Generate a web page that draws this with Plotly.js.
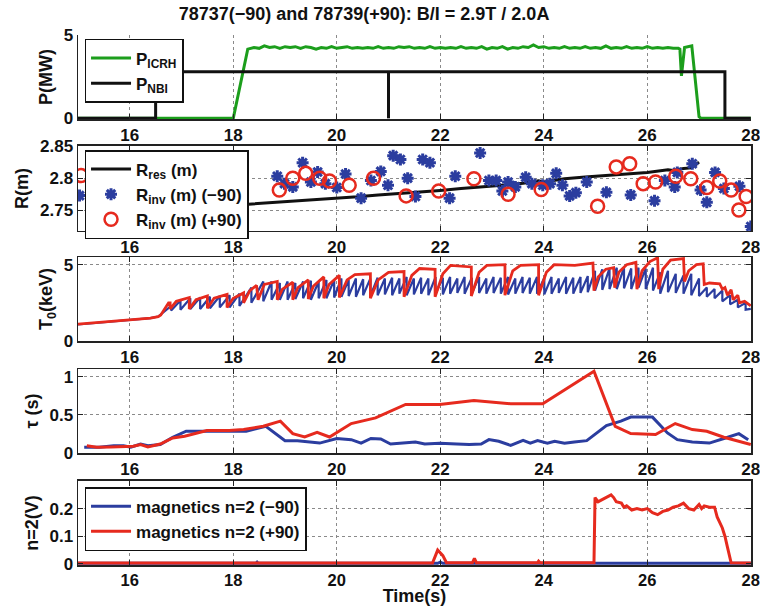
<!DOCTYPE html>
<html><head><meta charset="utf-8">
<script src="https://cdn.plot.ly/plotly-3.0.1.min.js"></script>
<style>body{margin:0;background:#fff}#chart{width:760px;height:606px}</style>
</head><body><div id="chart"></div>
<script>
// ---------- Panel 1: heating power (MW) ----------
const icrhTime = [15, 18.0, 18.28, 18.4, 18.5, 18.6, 18.7, 18.8, 18.9, 19.0, 19.1, 19.2, 19.3, 19.4, 19.5, 19.6, 19.7, 19.8, 19.9, 20.0, 20.1, 20.2, 20.3, 20.4, 20.5, 20.6, 20.7, 20.8, 20.9, 21.0, 21.1, 21.2, 21.3, 21.4, 21.5, 21.6, 21.7, 21.8, 21.9, 22.0, 22.1, 22.2, 22.3, 22.4, 22.5, 22.6, 22.7, 22.8, 22.9, 23.0, 23.1, 23.2, 23.3, 23.4, 23.5, 23.6, 23.7, 23.8, 23.9, 24.0, 24.1, 24.2, 24.3, 24.4, 24.5, 24.6, 24.7, 24.8, 24.9, 25.0, 25.1, 25.2, 25.3, 25.4, 25.5, 25.6, 25.7, 25.8, 25.9, 26.0, 26.1, 26.2, 26.3, 26.4, 26.5, 26.6, 26.63, 26.66, 26.72, 26.8, 26.86, 27.0, 27.04, 28];
const icrhPower = [0, 0, 4.15, 4.25, 4.2, 4.35, 4.25, 4.3, 4.2, 4.3, 4.25, 4.3, 4.2, 4.3, 4.25, 4.15, 4.25, 4.2, 4.3, 4.2, 4.25, 4.3, 4.2, 4.25, 4.2, 4.25, 4.2, 4.3, 4.2, 4.25, 4.2, 4.3, 4.25, 4.3, 4.2, 4.25, 4.2, 4.3, 4.2, 4.25, 4.2, 4.25, 4.2, 4.3, 4.2, 4.25, 4.2, 4.3, 4.15, 4.25, 4.2, 4.3, 4.15, 4.25, 4.2, 4.3, 4.25, 4.4, 4.25, 4.3, 4.2, 4.25, 4.2, 4.3, 4.2, 4.25, 4.2, 4.3, 4.2, 4.25, 4.2, 4.35, 4.2, 4.25, 4.2, 4.3, 4.2, 4.25, 4.2, 4.3, 4.2, 4.25, 4.2, 4.25, 4.2, 4.2, 4.15, 2.55, 4.25, 4.3, 4.35, 0.1, 0, 0];
const nbiTime = [15, 16.5, 16.5, 27.5, 27.5, 28, null, 21, 21];
const nbiPower = [0, 0, 2.8, 2.8, 0, 0, null, 0, 2.8];

// ---------- Panel 2: radii (m) ----------
const resTime = [18.0, 18.8, 19.2, 19.6, 20.0, 20.4, 20.8, 21.2, 21.6, 22.0, 22.4, 22.8, 23.2, 23.6, 23.9, 24.0, 24.4, 24.8, 25.2, 25.6, 26.0, 26.4, 26.5, 26.7, 26.85, 27.0];
const resR = [2.758, 2.762, 2.764, 2.767, 2.769, 2.771, 2.774, 2.776, 2.779, 2.781, 2.784, 2.786, 2.789, 2.792, 2.796, 2.794, 2.799, 2.802, 2.804, 2.806, 2.809, 2.813, 2.812, 2.815, 2.816, 2.825];
const invMinusTime = [15.03, 16.76, 18.85, 18.99, 19.15, 19.34, 19.5, 19.63, 19.78, 20.0, 20.17, 20.47, 20.66, 20.85, 20.99, 21.09, 21.23, 21.37, 21.52, 21.66, 21.8, 22.18, 22.29, 22.77, 22.94, 23.08, 23.2, 23.31, 23.45, 23.65, 23.77, 23.98, 24.12, 24.24, 24.36, 24.5, 24.62, 24.83, 25.21, 25.68, 26.14, 26.34, 26.53, 26.58, 26.87, 27.03, 27.15, 27.31, 27.48, 27.78, 28.0];
const invMinusR = [2.773, 2.724, 2.803, 2.7915, 2.7865, 2.824, 2.794, 2.8095, 2.7915, 2.7855, 2.8065, 2.769, 2.7965, 2.8105, 2.789, 2.835, 2.829, 2.8, 2.7715, 2.829, 2.824, 2.769, 2.803, 2.839, 2.7965, 2.7965, 2.78, 2.794, 2.7865, 2.8015, 2.7915, 2.789, 2.7915, 2.8075, 2.789, 2.7725, 2.7775, 2.794, 2.778, 2.774, 2.765, 2.7965, 2.7865, 2.809, 2.8225, 2.7815, 2.7625, 2.809, 2.784, 2.7875, 2.725];
const invPlusTime = [15.06, 18.89, 19.15, 19.4, 19.67, 19.86, 20.24, 20.71, 21.34, 21.97, 22.65, 23.31, 23.95, 25.04, 25.4, 25.66, 25.92, 26.16, 26.55, 26.84, 27.15, 27.4, 27.62, 27.77, 27.91];
const invPlusR = [2.804, 2.7815, 2.8, 2.8075, 2.8, 2.7955, 2.789, 2.8, 2.7725, 2.78, 2.799, 2.775, 2.7825, 2.7565, 2.8175, 2.8225, 2.7915, 2.794, 2.803, 2.799, 2.7855, 2.7955, 2.7815, 2.7505, 2.7715];

// ---------- Panel 3: central temperature (keV) ----------
const blueT0StartTime = [15.0, 15.5, 16.0, 16.4, 16.55, 16.7];
const blueT0Start = [1.08, 1.22, 1.38, 1.5, 1.6, 2.0];
const blueCrashTime = [16.8, 16.98, 17.17, 17.36, 17.55, 17.74, 17.93, 18.12, 18.35, 18.58, 18.74, 18.9, 19.05, 19.2, 19.35, 19.5, 19.65, 19.8, 19.95, 20.09, 20.23, 20.37, 20.51, 20.65, 20.79, 20.93, 21.07, 21.21, 21.35, 21.49, 21.63, 21.77, 21.91, 22.05, 22.19, 22.33, 22.47, 22.61, 22.75, 22.89, 23.03, 23.17, 23.31, 23.45, 23.59, 23.73, 23.87, 24.01, 24.15, 24.29, 24.43, 24.57, 24.71, 24.85, 24.99, 25.13, 25.27, 25.41, 25.55, 25.69, 25.83, 25.97, 26.11, 26.25, 26.4, 26.55, 26.7, 26.85, 27.0, 27.15, 27.3, 27.45, 27.6, 27.75, 27.9];
const blueCrashPeak = [2.3, 2.65, 2.8, 2.85, 2.9, 2.95, 3.0, 3.1, 3.5, 3.9, 3.9, 3.8, 3.9, 3.8, 3.9, 3.95, 3.9, 4.0, 4.0, 4.1, 4.0, 4.1, 4.05, 4.1, 4.15, 4.1, 4.15, 4.1, 4.2, 4.1, 4.15, 4.1, 4.2, 4.15, 4.2, 4.1, 4.2, 4.15, 4.2, 4.1, 4.2, 4.15, 4.2, 4.1, 4.2, 4.15, 4.2, 4.15, 4.2, 4.1, 4.2, 4.15, 4.2, 4.25, 4.6, 4.7, 4.75, 4.8, 4.8, 4.75, 4.8, 4.75, 4.8, 4.5, 4.6, 4.4, 4.3, 4.4, 4.1, 3.5, 3.4, 3.3, 3.0, 2.7, 2.5];
const blueCrashMin = [2.0, 2.05, 2.1, 2.1, 2.15, 2.2, 2.2, 2.3, 2.5, 2.6, 2.7, 2.7, 2.7, 2.75, 2.8, 2.7, 2.8, 2.8, 2.85, 2.9, 2.95, 2.9, 3.0, 2.95, 3.0, 3.05, 3.0, 3.1, 3.0, 3.05, 3.1, 3.0, 3.1, 3.05, 3.1, 3.15, 3.1, 3.1, 3.15, 3.1, 3.15, 3.1, 3.05, 3.1, 3.15, 3.1, 3.1, 3.05, 3.1, 3.15, 3.1, 3.1, 3.15, 3.2, 3.3, 3.35, 3.4, 3.4, 3.45, 3.4, 3.5, 3.4, 3.3, 3.1, 3.2, 3.15, 3.1, 3.0, 2.95, 2.9, 2.8, 2.6, 2.4, 2.2, 2.05];
const blueT0EndTime = [28.0];
const blueT0End = [2.1];
const redT0Time = [15.0, 15.5, 16.0, 16.4, 16.55, 16.6, 16.75, 16.78, 16.78, 16.9, 17.15, 17.15, 17.28, 17.5, 17.5, 17.63, 17.88, 17.88, 18.0, 18.2, 18.2, 18.32, 18.45, 18.48, 18.6, 18.85, 18.85, 18.95, 19.15, 19.15, 19.25, 19.45, 19.45, 19.55, 19.75, 19.75, 19.85, 20.05, 20.05, 20.2, 20.35, 20.65, 20.65, 20.8, 21.0, 21.3, 21.3, 21.45, 21.6, 21.9, 21.9, 22.05, 22.2, 22.6, 22.6, 22.75, 22.9, 23.25, 23.25, 23.4, 23.55, 23.9, 23.9, 24.05, 24.2, 24.6, 24.95, 24.97, 25.05, 25.2, 25.35, 25.37, 25.45, 25.6, 25.78, 25.8, 25.9, 26.05, 26.2, 26.22, 26.3, 26.45, 26.7, 26.72, 26.8, 26.95, 27.08, 27.1, 27.2, 27.4, 27.45, 27.5, 27.55, 27.62, 27.66, 27.75, 27.78, 27.88, 28.0];
const redT0 = [1.1, 1.25, 1.4, 1.5, 1.6, 1.7, 2.5, 2.5, 2.1, 2.6, 2.85, 2.1, 2.7, 2.95, 2.15, 2.8, 3.05, 2.2, 2.8, 3.15, 2.5, 3.3, 3.65, 2.7, 3.7, 3.9, 2.7, 3.4, 3.85, 2.7, 3.5, 4.0, 2.75, 3.6, 4.2, 2.8, 3.7, 4.3, 2.85, 4.0, 4.35, 4.4, 2.8, 4.0, 4.5, 4.55, 2.9, 4.3, 4.75, 4.7, 2.9, 4.4, 4.95, 4.85, 2.95, 4.5, 4.95, 5.0, 3.0, 4.6, 4.95, 5.0, 3.0, 4.5, 5.0, 4.95, 5.1, 3.3, 4.2, 4.7, 4.8, 3.5, 4.5, 5.0, 5.15, 3.4, 4.6, 5.2, 5.45, 3.4, 4.7, 5.3, 5.4, 3.9, 4.6, 5.0, 5.05, 3.7, 3.8, 3.75, 3.4, 3.5, 3.0, 3.35, 2.7, 3.0, 2.5, 2.6, 2.3];

// ---------- Panel 4: tau (s) ----------
const tauMinusTime = [15.12, 15.41, 15.69, 15.88, 16.02, 16.21, 16.35, 16.59, 16.83, 17.09, 17.44, 18.01, 18.25, 18.63, 19.0, 19.24, 19.43, 19.67, 20.0, 20.28, 20.47, 20.66, 20.85, 21.04, 21.28, 21.52, 21.7, 21.99, 22.32, 22.56, 22.79, 22.94, 23.13, 23.36, 23.6, 23.74, 23.88, 24.07, 24.21, 24.4, 24.59, 24.83, 25.21, 25.49, 25.68, 26.1, 26.39, 26.58, 26.87, 27.2, 27.48, 27.77, 27.95];
const tauMinus = [0.075, 0.075, 0.096, 0.096, 0.075, 0.118, 0.096, 0.11, 0.206, 0.285, 0.285, 0.285, 0.285, 0.35, 0.162, 0.162, 0.145, 0.13, 0.19, 0.175, 0.13, 0.19, 0.184, 0.118, 0.13, 0.145, 0.118, 0.127, 0.118, 0.11, 0.118, 0.175, 0.153, 0.1, 0.167, 0.13, 0.162, 0.13, 0.153, 0.127, 0.145, 0.162, 0.36, 0.417, 0.47, 0.47, 0.263, 0.175, 0.145, 0.13, 0.19, 0.254, 0.175];
const tauPlusTime = [15.17, 15.36, 15.64, 15.88, 16.07, 16.21, 16.35, 16.59, 16.83, 17.06, 17.49, 17.92, 18.2, 18.58, 18.91, 19.15, 19.38, 19.62, 19.86, 20.28, 20.75, 21.33, 21.99, 22.65, 23.36, 23.98, 24.97, 25.38, 25.68, 26.16, 26.54, 26.87, 27.15, 27.48, 28.0];
const tauPlus = [0.096, 0.075, 0.079, 0.079, 0.088, 0.11, 0.079, 0.118, 0.197, 0.219, 0.294, 0.294, 0.307, 0.35, 0.417, 0.254, 0.21, 0.272, 0.21, 0.386, 0.46, 0.636, 0.636, 0.689, 0.645, 0.645, 1.07, 0.35, 0.254, 0.241, 0.386, 0.307, 0.285, 0.206, 0.11];

// ---------- Panel 5: n=2 magnetics (V) ----------
const magMinusTime = [15, 18.44, 18.46, 18.48, 21.95, 22.0, 22.05, 28];
const magMinus = [0.002, 0.002, 0.006, 0.002, 0.002, 0.006, 0.002, 0.002];
const magPlusTime = [15, 21.85, 21.95, 22.05, 22.12, 22.62, 22.66, 22.7, 23.88, 23.9, 23.93, 24.97, 24.99, 25.05, 25.1, 25.2, 25.3, 25.35, 25.4, 25.5, 25.55, 25.6, 25.7, 25.8, 25.9, 26.0, 26.1, 26.2, 26.3, 26.4, 26.5, 26.6, 26.7, 26.8, 26.9, 27.0, 27.05, 27.1, 27.2, 27.3, 27.35, 27.45, 27.5, 27.55, 27.62, 28];
const magPlus = [0.003, 0.003, 0.05, 0.03, 0.004, 0.004, 0.02, 0.004, 0.004, 0.01, 0.004, 0.004, 0.24, 0.225, 0.23, 0.24, 0.25, 0.24, 0.225, 0.22, 0.205, 0.21, 0.195, 0.2, 0.195, 0.2, 0.185, 0.178, 0.19, 0.195, 0.205, 0.21, 0.22, 0.2, 0.195, 0.215, 0.2, 0.21, 0.205, 0.205, 0.17, 0.13, 0.1, 0.06, 0.004, 0.003];

const xTicks = [16, 18, 20, 22, 24, 26, 28];
const xTickText = ['16', '18', '20', '22', '24', '26', '28'];

// build sawtooth polyline for the (−90) temperature
const bx = blueT0StartTime.slice(), by = blueT0Start.slice();
for (let i = 0; i < blueCrashTime.length; i++) {
  bx.push(blueCrashTime[i], blueCrashTime[i]);
  by.push(blueCrashPeak[i], blueCrashMin[i]);
}
bx.push(...blueT0EndTime); by.push(...blueT0End);

const BLUE = '#2b3d9f', RED = '#e62a1e', GREEN = '#1c9e1c', BLACK = '#111111';
const FONT = 'Liberation Sans, Arial, Helvetica, sans-serif';

const traces = [
  {x: icrhTime, y: icrhPower, type: 'scatter', mode: 'lines', name: 'P<sub>ICRH</sub>', line: {color: GREEN, width: 3}, xaxis: 'x', yaxis: 'y', legend: 'legend'},
  {x: nbiTime, y: nbiPower, type: 'scatter', mode: 'lines', name: 'P<sub>NBI</sub>', line: {color: BLACK, width: 3}, connectgaps: false, xaxis: 'x', yaxis: 'y', legend: 'legend'},

  {x: resTime, y: resR, type: 'scatter', mode: 'lines', name: 'R<sub>res</sub> (m)', line: {color: BLACK, width: 3}, xaxis: 'x2', yaxis: 'y2', legend: 'legend2'},
  {x: invMinusTime, y: invMinusR, type: 'scatter', mode: 'markers', name: 'R<sub>inv</sub> (m) (\u221290)', marker: {symbol: 'asterisk-open', size: 10, color: BLUE, line: {color: BLUE, width: 3}}, xaxis: 'x2', yaxis: 'y2', legend: 'legend2'},
  {x: invPlusTime, y: invPlusR, type: 'scatter', mode: 'markers', name: 'R<sub>inv</sub> (m) (+90)', marker: {symbol: 'circle-open', size: 13, color: RED, line: {color: RED, width: 2.5}}, xaxis: 'x2', yaxis: 'y2', legend: 'legend2'},

  {x: bx, y: by, type: 'scatter', mode: 'lines', showlegend: false, line: {color: BLUE, width: 2.2}, xaxis: 'x3', yaxis: 'y3'},
  {x: redT0Time, y: redT0, type: 'scatter', mode: 'lines', showlegend: false, line: {color: RED, width: 2.8}, xaxis: 'x3', yaxis: 'y3'},

  {x: tauMinusTime, y: tauMinus, type: 'scatter', mode: 'lines', showlegend: false, line: {color: BLUE, width: 3}, xaxis: 'x4', yaxis: 'y4'},
  {x: tauPlusTime, y: tauPlus, type: 'scatter', mode: 'lines', showlegend: false, line: {color: RED, width: 3}, xaxis: 'x4', yaxis: 'y4'},

  {x: magMinusTime, y: magMinus, type: 'scatter', mode: 'lines', name: 'magnetics n=2 (\u221290)', line: {color: BLUE, width: 3}, xaxis: 'x5', yaxis: 'y5', legend: 'legend3'},
  {x: magPlusTime, y: magPlus, type: 'scatter', mode: 'lines', name: 'magnetics n=2 (+90)', line: {color: RED, width: 3}, xaxis: 'x5', yaxis: 'y5', legend: 'legend3'}
];

const tickFont = {family: FONT, size: 17, color: '#111', weight: 'bold'};
const titleFont = {family: FONT, size: 18, color: '#111', weight: 'bold'};

function xAx(anchor, box, title) {
  const a = {anchor: anchor, domain: [0, 1], range: [15, 28.004], tickmode: 'array', tickvals: xTicks, ticktext: xTickText,
    ticks: 'inside', ticklen: 5, tickwidth: 1, tickcolor: '#222', showline: true, linecolor: '#222', linewidth: 1.5,
    mirror: box ? 'ticks' : false, showgrid: true, gridcolor: '#8a8a8a', griddash: 'dot', gridwidth: 1,
    zeroline: false, tickfont: tickFont, ticklabelstandoff: 0, ticklabeloverflow: 'allow'};
  if (title) a.title = {text: title, font: titleFont, standoff: 3};
  return a;
}
function yAx(anchor, dom, range, vals, texts, title, box) {
  return {anchor: anchor, domain: dom, range: range, tickmode: 'array', tickvals: vals, ticktext: texts,
    ticks: 'inside', ticklen: 5, tickwidth: 1, tickcolor: '#222', showline: true, linecolor: '#222', linewidth: 1.5,
    mirror: box ? 'ticks' : false, showgrid: true, gridcolor: '#8a8a8a', griddash: 'dot', gridwidth: 1,
    zeroline: false, tickfont: tickFont, title: {text: title, font: titleFont, standoff: 6}};
}

const legendBase = {bgcolor: '#ffffff', bordercolor: '#111', borderwidth: 1.5, font: {family: FONT, size: 17, color: '#111', weight: 'bold'},
  xref: 'paper', yref: 'paper', xanchor: 'left', yanchor: 'top', tracegroupgap: 0, itemwidth: 40};

const layout = {
  width: 760, height: 606,
  margin: {l: 78, r: 9, t: 35, b: 41},
  paper_bgcolor: '#fff', plot_bgcolor: '#fff',
  font: {family: FONT, color: '#111'},
  title: {text: '78737(\u221290) and 78739(+90): B/I = 2.9T / 2.0A', font: {family: FONT, size: 18, color: '#111', weight: 'bold'},
    x: 0.479, xanchor: 'center', xref: 'container', y: 1 - 14 / 606, yanchor: 'middle', yref: 'container'},
  xaxis: xAx('y', false),
  yaxis: yAx('x', [0.8415, 1.0], [-0.04, 5], [0, 5], ['0', '5'], 'P(MW)', false),
  xaxis2: xAx('y2', true),
  yaxis2: yAx('x2', [0.6302, 0.7906], [2.718, 2.85], [2.75, 2.8, 2.85], ['2.75', '2.8', '2.85'], 'R(m)', true),
  xaxis3: xAx('y3', true),
  yaxis3: yAx('x3', [0.4226, 0.5811], [0, 5.5], [0, 5], ['0', '5'], 'T<sub>0</sub>(keV)', true),
  xaxis4: xAx('y4', true),
  yaxis4: yAx('x4', [0.2113, 0.3698], [0, 1.1], [0, 0.5, 1], ['0', '0.5', '1'], '\u03c4 (s)', true),
  xaxis5: Object.assign(xAx('y5', true, 'Time(s)'), {tickfont: Object.assign({}, tickFont, {size: 16.5})}),
  yaxis5: yAx('x5', [0, 0.1585], [-0.004, 0.3], [0, 0.1, 0.2], ['0', '0.1', '0.2'], 'n=2(V)', true),
  legend: Object.assign({}, legendBase, {x: 0.0097, y: 0.9925}),
  legend2: Object.assign({}, legendBase, {x: 0.0097, y: 0.783}),
  legend3: Object.assign({}, legendBase, {x: 0.0097, y: 0.147}),
  showlegend: true
};

Plotly.newPlot('chart', traces, layout, {displayModeBar: false, staticPlot: true});
</script>
</body></html>
